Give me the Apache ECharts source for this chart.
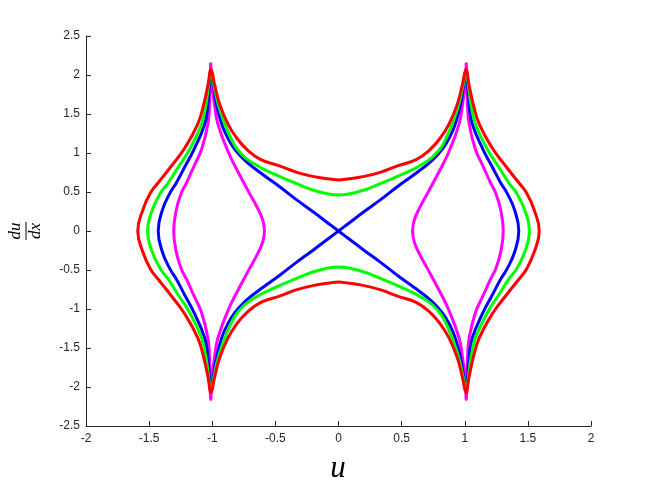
<!DOCTYPE html>
<html>
<head>
<meta charset="utf-8">
<script src="https://cdn.jsdelivr.net/npm/echarts@6/dist/echarts.min.js"></script>
<style>
  html, body { margin: 0; padding: 0; background: #fff; }
  #Chart { width: 654px; height: 491px; }
</style>
</head>
<body>
<div id="Chart"></div>
<script>
// tick values on both axes
var xTicks = [-2, -1.5, -1, -0.5, 0, 0.5, 1, 1.5, 2];
var yTicks = [-2.5, -2, -1.5, -1, -0.5, 0, 0.5, 1, 1.5, 2, 2.5];

// outermost closed orbit (red) as [u, du/dx]
var redCurve = [
    [0, 0.655], [-0.071, 0.666], [-0.204, 0.70], [-0.336, 0.755], [-0.468, 0.835], [-0.615, 0.915], [-0.725, 1.044], [-0.81, 1.2],
    [-0.875, 1.37], [-0.94, 1.62], [-0.982, 1.88], [-1.01, 2.07],
    [-1.033, 1.88], [-1.068, 1.62], [-1.115, 1.37], [-1.215, 1.07], [-1.325, 0.83], [-1.43, 0.615], [-1.49, 0.486], [-1.55, 0.27], [-1.59, 0],
    [-1.55, -0.27], [-1.49, -0.486], [-1.43, -0.615], [-1.325, -0.83], [-1.215, -1.07], [-1.115, -1.37], [-1.068, -1.62], [-1.033, -1.88], [-1.01, -2.07],
    [-0.982, -1.88], [-0.94, -1.62], [-0.875, -1.37], [-0.81, -1.2], [-0.725, -1.044], [-0.615, -0.915], [-0.468, -0.835], [-0.336, -0.755], [-0.204, -0.70], [-0.071, -0.666], [0, -0.655],
    [0.071, -0.666], [0.204, -0.70], [0.336, -0.755], [0.468, -0.835], [0.615, -0.915], [0.725, -1.044], [0.81, -1.2], [0.875, -1.37], [0.94, -1.62], [0.982, -1.88], [1.01, -2.07],
    [1.033, -1.88], [1.068, -1.62], [1.115, -1.37], [1.215, -1.07], [1.325, -0.83], [1.43, -0.615], [1.49, -0.486], [1.55, -0.27], [1.59, 0],
    [1.55, 0.27], [1.49, 0.486], [1.43, 0.615], [1.325, 0.83], [1.215, 1.07], [1.115, 1.37], [1.068, 1.62], [1.033, 1.88], [1.01, 2.07],
    [0.982, 1.88], [0.94, 1.62], [0.875, 1.37], [0.81, 1.2], [0.725, 1.044], [0.615, 0.915], [0.468, 0.835], [0.336, 0.755], [0.204, 0.70], [0.071, 0.666], [0, 0.655]
];

var greenCurve = [
    [0, 0.46], [-0.071, 0.47], [-0.204, 0.525], [-0.336, 0.61], [-0.468, 0.70], [-0.68, 0.872], [-0.80, 1.044], [-0.855, 1.2],
    [-0.9, 1.37], [-0.952, 1.62], [-0.988, 1.88], [-1.01, 2.05],
    [-1.028, 1.88], [-1.05, 1.62], [-1.085, 1.37], [-1.18, 1.044], [-1.265, 0.83], [-1.35, 0.615], [-1.41, 0.486], [-1.475, 0.27], [-1.512, 0],
    [-1.475, -0.27], [-1.41, -0.486], [-1.35, -0.615], [-1.265, -0.83], [-1.18, -1.044], [-1.085, -1.37], [-1.05, -1.62], [-1.028, -1.88], [-1.01, -2.05],
    [-0.988, -1.88], [-0.952, -1.62], [-0.9, -1.37], [-0.855, -1.2], [-0.80, -1.044], [-0.68, -0.872], [-0.468, -0.70], [-0.336, -0.61], [-0.204, -0.525], [-0.071, -0.47], [0, -0.46],
    [0.071, -0.47], [0.204, -0.525], [0.336, -0.61], [0.468, -0.70], [0.68, -0.872], [0.80, -1.044], [0.855, -1.2], [0.9, -1.37], [0.952, -1.62], [0.988, -1.88], [1.01, -2.05],
    [1.028, -1.88], [1.05, -1.62], [1.085, -1.37], [1.18, -1.044], [1.265, -0.83], [1.35, -0.615], [1.41, -0.486], [1.475, -0.27], [1.512, 0],
    [1.475, 0.27], [1.41, 0.486], [1.35, 0.615], [1.265, 0.83], [1.18, 1.044], [1.085, 1.37], [1.05, 1.62], [1.028, 1.88], [1.01, 2.05],
    [0.988, 1.88], [0.952, 1.62], [0.9, 1.37], [0.855, 1.2], [0.80, 1.044], [0.68, 0.872], [0.468, 0.70], [0.336, 0.61], [0.204, 0.525], [0.071, 0.47], [0, 0.46]
];

// separatrix, crosses itself at the origin
var blueCurve = [
    [0, 0], [-0.071, 0.087], [-0.204, 0.249], [-0.336, 0.405], [-0.468, 0.571], [-0.60, 0.725], [-0.733, 0.893], [-0.82, 1.044], [-0.88, 1.2],
    [-0.925, 1.37], [-0.966, 1.62], [-0.992, 1.88], [-1.01, 2.06],
    [-1.022, 1.88], [-1.035, 1.62], [-1.06, 1.37], [-1.145, 1.044], [-1.215, 0.83], [-1.285, 0.615], [-1.335, 0.486], [-1.395, 0.27], [-1.428, 0],
    [-1.395, -0.27], [-1.335, -0.486], [-1.285, -0.615], [-1.215, -0.83], [-1.145, -1.044], [-1.06, -1.37], [-1.035, -1.62], [-1.022, -1.88], [-1.01, -2.06],
    [-0.992, -1.88], [-0.966, -1.62], [-0.925, -1.37], [-0.88, -1.2], [-0.82, -1.044], [-0.733, -0.893], [-0.60, -0.725], [-0.468, -0.571], [-0.336, -0.405], [-0.204, -0.249], [-0.071, -0.087], [0, 0],
    [0.071, 0.087], [0.204, 0.249], [0.336, 0.405], [0.468, 0.571], [0.60, 0.725], [0.733, 0.893], [0.82, 1.044], [0.88, 1.2], [0.925, 1.37], [0.966, 1.62], [0.992, 1.88], [1.01, 2.06],
    [1.022, 1.88], [1.035, 1.62], [1.06, 1.37], [1.145, 1.044], [1.215, 0.83], [1.285, 0.615], [1.335, 0.486], [1.395, 0.27], [1.428, 0],
    [1.395, -0.27], [1.335, -0.486], [1.285, -0.615], [1.215, -0.83], [1.145, -1.044], [1.06, -1.37], [1.035, -1.62], [1.022, -1.88], [1.01, -2.06],
    [0.992, -1.88], [0.966, -1.62], [0.925, -1.37], [0.88, -1.2], [0.82, -1.044], [0.733, -0.893], [0.60, -0.725], [0.468, -0.571], [0.336, -0.405], [0.204, -0.249], [0.071, -0.087], [0, 0]
];

// inner orbits (magenta), one around u = -1 and one around u = 1
var magentaLeft = [
    [-1.012, 2.16], [-1.018, 1.88], [-1.022, 1.62], [-1.035, 1.37], [-1.085, 1.044], [-1.145, 0.83], [-1.205, 0.615], [-1.245, 0.486], [-1.285, 0.27], [-1.305, 0],
    [-1.285, -0.27], [-1.245, -0.486], [-1.205, -0.615], [-1.145, -0.83], [-1.085, -1.044], [-1.035, -1.37], [-1.022, -1.62], [-1.018, -1.88], [-1.012, -2.16],
    [-1.002, -1.88], [-0.982, -1.62], [-0.955, -1.37], [-0.87, -1.0], [-0.79, -0.74], [-0.706, -0.486], [-0.64, -0.29], [-0.60, -0.14], [-0.587, 0],
    [-0.60, 0.14], [-0.64, 0.29], [-0.706, 0.486], [-0.79, 0.74], [-0.87, 1.0], [-0.955, 1.37], [-0.982, 1.62], [-1.002, 1.88], [-1.012, 2.16]
];

var magentaRight = [
    [1.012, 2.16], [1.018, 1.88], [1.022, 1.62], [1.035, 1.37], [1.085, 1.044], [1.145, 0.83], [1.205, 0.615], [1.245, 0.486], [1.285, 0.27], [1.305, 0],
    [1.285, -0.27], [1.245, -0.486], [1.205, -0.615], [1.145, -0.83], [1.085, -1.044], [1.035, -1.37], [1.022, -1.62], [1.018, -1.88], [1.012, -2.16],
    [1.002, -1.88], [0.982, -1.62], [0.955, -1.37], [0.87, -1.0], [0.79, -0.74], [0.706, -0.486], [0.64, -0.29], [0.60, -0.14], [0.587, 0],
    [0.60, 0.14], [0.64, 0.29], [0.706, 0.486], [0.79, 0.74], [0.87, 1.0], [0.955, 1.37], [0.982, 1.62], [1.002, 1.88], [1.012, 2.16]
];

var Chart = echarts.init(document.getElementById('Chart'));

var axisColor = '#262626';

function curve(name, color, data) {
    return {
        name: name,
        type: 'line',
        data: data,
        smooth: 0.45,
        showSymbol: false,
        symbol: 'none',
        lineStyle: { color: color, width: 3 }
    };
}

var PhaseOption = {
    animation: false,
    backgroundColor: '#ffffff',
    grid: {
        left: 86,
        right: 63,
        top: 36,
        bottom: 65,
        outerBoundsMode: 'none'
    },
    xAxis: {
        type: 'value',
        min: xTicks[0],
        max: xTicks[xTicks.length - 1],
        interval: 0.5,
        splitLine: { show: false },
        axisLine: { onZero: false, lineStyle: { color: axisColor, width: 1 } },
        axisTick: { inside: true, length: 5, lineStyle: { color: axisColor } },
        axisLabel: {
            color: axisColor,
            fontSize: 12,
            fontFamily: 'Liberation Sans',
            margin: 7
        }
    },
    yAxis: {
        type: 'value',
        min: yTicks[0],
        max: yTicks[yTicks.length - 1],
        interval: 0.5,
        splitLine: { show: false },
        axisLine: { show: true, onZero: false, lineStyle: { color: axisColor, width: 1 } },
        axisTick: { show: true, inside: true, length: 5, lineStyle: { color: axisColor } },
        axisLabel: {
            color: axisColor,
            fontSize: 12,
            fontFamily: 'Liberation Sans',
            margin: 6
        }
    },
    graphic: [
        {
            // du/dx label as a fraction
            type: 'group',
            x: 26,
            y: 231,
            rotation: Math.PI / 2,
            children: [
                {
                    type: 'text',
                    x: 0, y: -10,
                    style: {
                        text: 'du', fill: '#000',
                        font: 'italic 17px "Liberation Serif"',
                        align: 'center', verticalAlign: 'middle'
                    }
                },
                {
                    type: 'line',
                    shape: { x1: -9, y1: 0, x2: 9, y2: 0 },
                    style: { stroke: '#000', lineWidth: 1 }
                },
                {
                    type: 'text',
                    x: 0, y: 10,
                    style: {
                        text: 'dx', fill: '#000',
                        font: 'italic 17px "Liberation Serif"',
                        align: 'center', verticalAlign: 'middle'
                    }
                }
            ]
        },
        {
            type: 'text',
            x: 338,
            y: 469,
            style: {
                text: 'u', fill: '#000',
                font: 'italic 31px "Liberation Serif"',
                align: 'center', verticalAlign: 'middle'
            }
        }
    ],
    series: [
        curve('magenta', '#ff00ff', magentaLeft),
        curve('magenta', '#ff00ff', magentaRight),
        curve('blue', '#0000ff', blueCurve),
        curve('green', '#00ff00', greenCurve),
        curve('red', '#ff0000', redCurve)
    ]
};

Chart.setOption(PhaseOption);

window.addEventListener("resize", function () {
    Chart.resize();
});
</script>
</body>
</html>
